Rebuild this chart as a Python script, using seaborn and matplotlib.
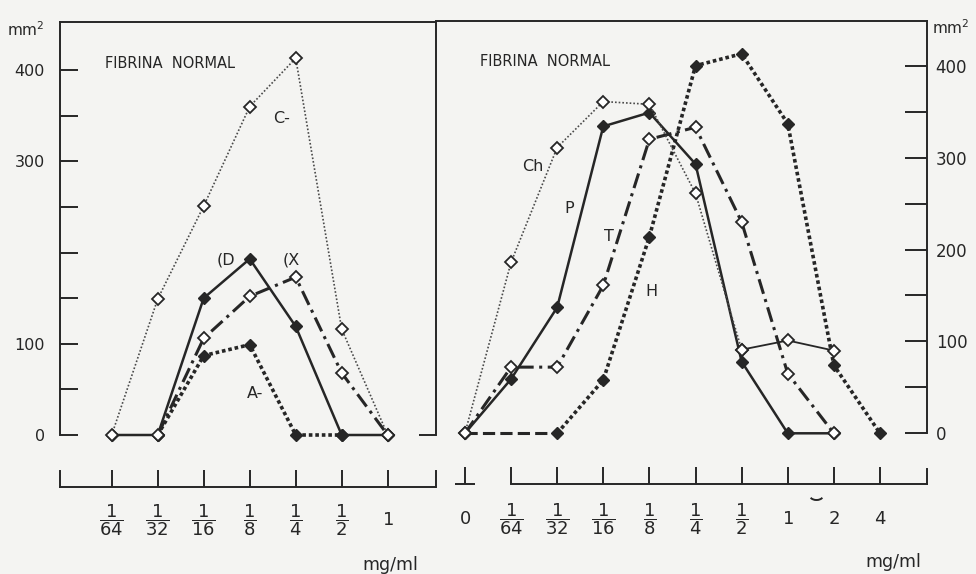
import numpy as np
import pandas as pd
import matplotlib
matplotlib.use("Agg")
import matplotlib.pyplot as plt
import seaborn as sns
from matplotlib.patches import Arc

# ---------------- data ----------------
left_conc = [1/64, 1/32, 1/16, 1/8, 1/4, 1/2, 1]
left_tick_labels = [r"$\dfrac{1}{64}$", r"$\dfrac{1}{32}$", r"$\dfrac{1}{16}$",
                    r"$\dfrac{1}{8}$", r"$\dfrac{1}{4}$", r"$\dfrac{1}{2}$", r"$1$"]
C_conc = [1/64, 1/32, 1/16, 1/8, 1/4, 1/2, 1]
C_vals = [0, 149, 251, 360, 413, 116, 0]
D_conc = [1/64, 1/32, 1/16, 1/8, 1/4, 1/2, 1]
D_vals = [0, 0, 150, 193, 119, 0, 0]
X_conc = [1/32, 1/16, 1/8, 1/4, 1/2, 1]
X_vals = [0, 106, 152, 173, 68, 0]
A_conc = [1/32, 1/16, 1/8, 1/4, 1/2]
A_vals = [0, 87, 99, 0, 0]

right_conc = [0, 1/64, 1/32, 1/16, 1/8, 1/4, 1/2, 1, 2, 4]
right_tick_labels = [r"$0$", r"$\dfrac{1}{64}$", r"$\dfrac{1}{32}$", r"$\dfrac{1}{16}$",
                     r"$\dfrac{1}{8}$", r"$\dfrac{1}{4}$", r"$\dfrac{1}{2}$",
                     r"$1$", r"$2$", r"$4$"]
Ch_conc = [0, 1/64, 1/32, 1/16, 1/8, 1/4, 1/2, 1, 2]
Ch_vals = [0, 186, 311, 361, 358, 261, 91, 101, 90]
P_conc = [0, 1/64, 1/32, 1/16, 1/8, 1/4, 1/2, 1, 2]
P_vals = [0, 59, 137, 334, 349, 293, 78, 0, 0]
T_conc = [0, 1/64, 1/32, 1/16, 1/8, 1/4, 1/2, 1, 2]
T_vals = [0, 72, 72, 161, 320, 333, 230, 65, 0]
H_conc = [0, 1/32, 1/16, 1/8, 1/4, 1/2, 1, 2, 4]
H_vals = [0, 0, 58, 214, 400, 413, 337, 74, 0]

y_ticks = [0, 50, 100, 150, 200, 250, 300, 350, 400]
left_y_labels = ["0", "", "100", "", "", "", "300", "", "400"]
right_y_labels = ["0", "", "100", "", "200", "", "300", "", "400"]

# ---------------- style ----------------
sns.set_style("white")
plt.rcParams["font.family"] = ["DejaVu Sans"]
plt.rcParams["mathtext.fontset"] = "dejavusans"
INK = "#262626"
BG = "#f4f4f2"
LW = 1.4

def pos(conc):
    c = np.asarray(conc, dtype=float)
    out = np.full(c.shape, -7.0)
    m = c > 0
    out[m] = np.log2(c[m])
    return out

W, H = 976, 574
fig = plt.figure(figsize=(W / 100, H / 100), dpi=100, facecolor=BG)

def rect(x0, y0, x1, y1):
    return [x0 / W, 1 - y1 / H, (x1 - x0) / W, (y1 - y0) / H]

axL = fig.add_axes(rect(60, 21.5, 435.5, 435))
axR = fig.add_axes(rect(435.5, 20.5, 927.3, 433.3))
bxL = fig.add_axes(rect(60, 470.5, 435.5, 487.3))
bxR = fig.add_axes(rect(435.5, 469, 927.3, 484.3))

for a in (axL, axR, bxL, bxR):
    a.set_facecolor("none")
    for s in a.spines.values():
        s.set_color(INK)
        s.set_linewidth(LW)

XL = (-7.124, 1.039)
XR = (-7.638, 3.026)
axL.set_xlim(*XL); axL.set_ylim(0, 453.2)
axR.set_xlim(*XR); axR.set_ylim(0, 449.2)
bxL.set_xlim(*XL); bxL.set_ylim(0, 1)
bxR.set_xlim(*XR); bxR.set_ylim(0, 1)

# line styles
fine_dot = dict(color="#4a4a4a", linewidth=1.2, linestyle=(0, (1.0, 1.2)))
solid = dict(color=INK, linewidth=1.8, linestyle="-")
dashdot = dict(color=INK, linewidth=2.2, linestyle=(0, (5.0, 1.8, 1.0, 1.8)))
heavy_dot = dict(color=INK, linewidth=2.6, linestyle=(0, (1.0, 0.8)))
long_dash = dict(color=INK, linewidth=2.2, linestyle=(0, (4.0, 1.7)))

open_m = dict(marker="D", markersize=6.3, markerfacecolor="white",
              markeredgecolor=INK, markeredgewidth=1.3)
fill_m = dict(marker="D", markersize=6.0, markerfacecolor=INK,
              markeredgecolor=INK, markeredgewidth=1.0)
no_m = dict(marker=None)

def draw(ax, conc, vals, lstyle, mstyle, sl=slice(None), z=3):
    df = pd.DataFrame({"x": pos(conc)[sl], "y": np.asarray(vals, float)[sl]})
    sns.lineplot(data=df, x="x", y="y", ax=ax, estimator=None, sort=False,
                 clip_on=False, zorder=z, **lstyle, **mstyle)

# left panel
draw(axL, A_conc, A_vals, heavy_dot, fill_m)
draw(axL, D_conc, D_vals, solid, fill_m)
draw(axL, X_conc, X_vals, dashdot, open_m, z=4)
draw(axL, C_conc, C_vals, fine_dot, open_m, z=4)

# right panel
draw(axR, H_conc, H_vals, long_dash, no_m, sl=slice(0, 2))
draw(axR, H_conc, H_vals, heavy_dot, fill_m, sl=slice(1, None))
draw(axR, P_conc, P_vals, solid, fill_m)
draw(axR, T_conc, T_vals, dashdot, open_m, z=4)
draw(axR, Ch_conc, Ch_vals, fine_dot, open_m, sl=slice(0, 7), z=4)
draw(axR, Ch_conc, Ch_vals, dict(color=INK, linewidth=1.3, linestyle="-"), open_m,
     sl=slice(6, None), z=4)

for a in (axL, axR, bxL, bxR):
    a.set_xlabel("")
    a.set_ylabel("")

# left main axes
axL.spines["bottom"].set_visible(False)
axL.set_xticks([])
axL.set_yticks(y_ticks, labels=left_y_labels)
axL.tick_params(axis="y", direction="in", length=13, width=LW, pad=11,
                labelsize=11.5, colors=INK, left=True, right=False)
sec = axL.secondary_yaxis("right")
sec.set_yticks([0], labels=[""])
sec.tick_params(axis="y", direction="in", length=12, width=LW, colors=INK,
                right=True)
sec.spines["right"].set_visible(False)

# right main axes
axR.spines["bottom"].set_visible(False)
axR.spines["left"].set_visible(False)
axR.set_xticks([])
axR.yaxis.tick_right()
axR.set_yticks(y_ticks, labels=right_y_labels)
axR.tick_params(axis="y", direction="in", length=16, width=LW, pad=6,
                labelsize=12, colors=INK, right=True, left=False)

# bottom axes
for bx, conc, labs, pad in ((bxL, left_conc, left_tick_labels, 23.5),
                            (bxR, right_conc, right_tick_labels, 25)):
    bx.spines["top"].set_visible(False)
    bx.set_yticks([])
    bx.set_xticks(pos(conc), labels=labs)
    bx.tick_params(axis="x", direction="in", length=12, width=LW, pad=pad,
                   labelsize=13, colors=INK, bottom=True, top=False)
    for lab in bx.get_xticklabels():
        lab.set_verticalalignment("center")

bxR.spines["left"].set_visible(False)
bxR.spines["bottom"].set_bounds(pos([1/64])[0], XR[1])
x0 = pos([0])[0]
bxR.plot([x0 - 0.22, x0 + 0.22], [0, 0], color=INK, lw=LW, clip_on=False,
         solid_capstyle="butt")

# break mark between 1 and 2
fig.add_artist(Arc((8.165, (H - 495) / 100), 0.14, 0.10, theta1=205, theta2=335,
                   transform=fig.dpi_scale_trans, color=INK, lw=LW))

# texts
fig.text(26 / W, 1 - 30 / H, r"$\mathrm{mm}^{2}$", ha="center", va="center",
         fontsize=11, color=INK)
fig.text(951 / W, 1 - 28 / H, r"$\mathrm{mm}^{2}$", ha="center", va="center",
         fontsize=11, color=INK)
fig.text(105 / W, 1 - 63 / H, "FIBRINA  NORMAL", ha="left", va="center",
         fontsize=10.5, color=INK)
fig.text(480 / W, 1 - 62 / H, "FIBRINA  NORMAL", ha="left", va="center",
         fontsize=10.5, color=INK)
fig.text(390 / W, 1 - 565 / H, "mg/ml", ha="center", va="center",
         fontsize=12.5, color=INK)
fig.text(893 / W, 1 - 562 / H, "mg/ml", ha="center", va="center",
         fontsize=12.5, color=INK)

lab_kw = dict(ha="left", va="center", fontsize=11.5, color=INK)
axL.text(-2.50, 347, "C-", **lab_kw)
axL.text(-3.72, 192, "(D", **lab_kw)
axL.text(-2.28, 192, "(X", **lab_kw)
axL.text(-3.06, 45, "A-", **lab_kw)
axR.text(-5.76, 290, "Ch", **lab_kw)
axR.text(-4.85, 245, "P", **lab_kw)
axR.text(-3.98, 214, "T", **lab_kw)
axR.text(-3.09, 154, "H", **lab_kw)

fig.savefig("out.png", dpi=100, facecolor=BG)
